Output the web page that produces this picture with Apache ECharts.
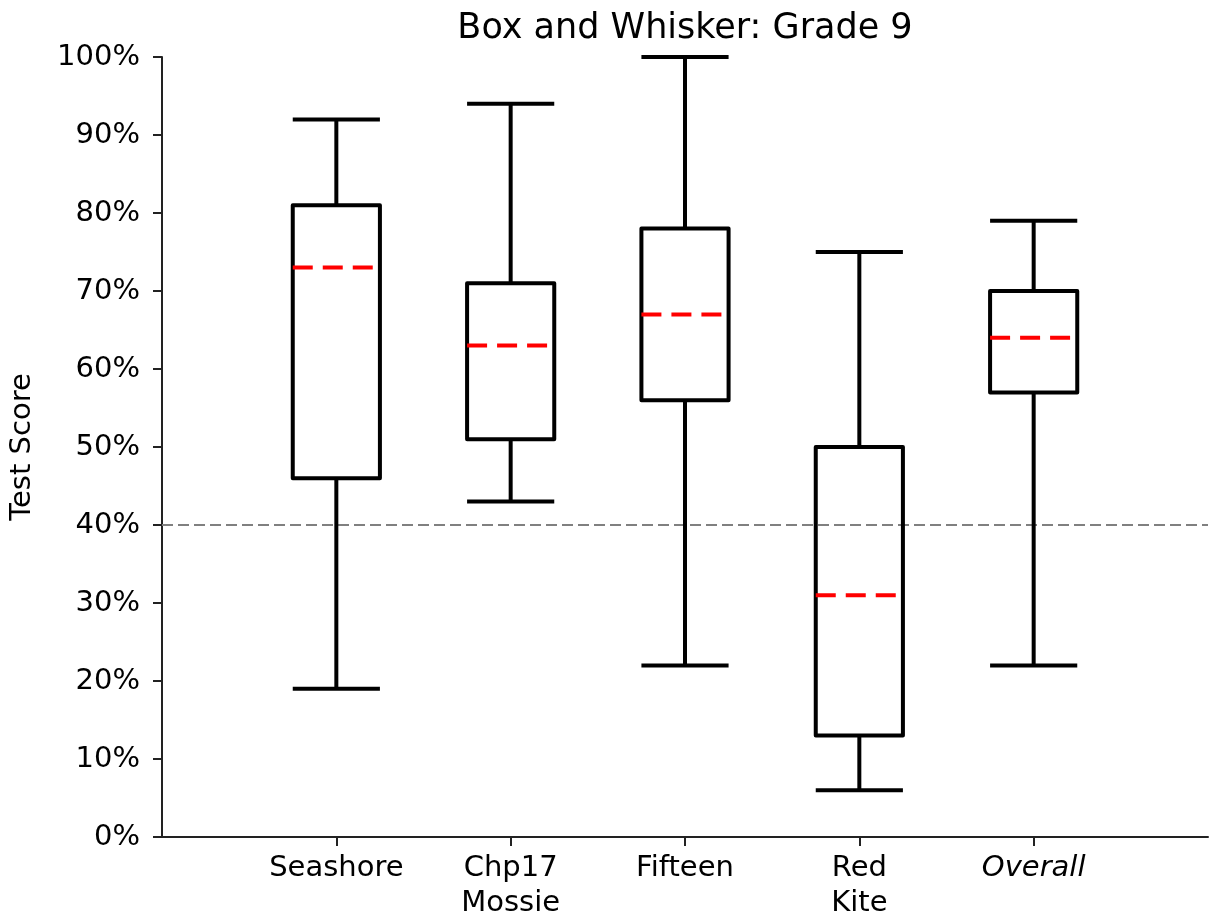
<!DOCTYPE html>
<html>
<head>
<meta charset="utf-8">
<script src="https://cdn.jsdelivr.net/npm/echarts@6/dist/echarts.min.js"></script>
<style>
html,body{margin:0;padding:0;background:#fff;}
#chart{width:1211px;height:921px;}
</style>
</head>
<body>
<div id="chart"></div>
<script>
// Data (percent)
var categories = ['Seashore', 'Chp17\nMossie', 'Fifteen', 'Red\nKite', 'Overall'];
var whiskerLow  = [19, 43, 22, 6, 22];
var quartile1   = [46, 51, 56, 13, 57];
var medians     = [73, 63, 67, 31, 64];
var quartile3   = [81, 71, 78, 50, 70];
var whiskerHigh = [92, 94, 100, 75, 79];
var yTicks = [0, 10, 20, 30, 40, 50, 60, 70, 80, 90, 100];
var passMark = 40;

var axisCats = [''].concat(categories).concat(['']);
var boxData = categories.map(function (c, i) {
  return [i + 1, whiskerLow[i], quartile1[i], medians[i], quartile3[i], whiskerHigh[i]];
});

var FONT = 'DejaVu Sans';
var chart = echarts.init(document.getElementById('chart'), null, {renderer: 'canvas'});

function renderBox(params, api) {
  var x = api.value(0);
  var w = api.size([1, 0])[0] * 0.5;
  var pLo = api.coord([x, api.value(1)]);
  var pQ1 = api.coord([x, api.value(2)]);
  var pMd = api.coord([x, api.value(3)]);
  var pQ3 = api.coord([x, api.value(4)]);
  var pHi = api.coord([x, api.value(5)]);
  var cx = pLo[0];
  var ls = {stroke: '#000', lineWidth: 4, lineCap: 'butt', lineJoin: 'round'};
  return {
    type: 'group',
    children: [
      {type: 'line', shape: {x1: cx, y1: pQ1[1], x2: cx, y2: pLo[1]}, style: ls},
      {type: 'line', shape: {x1: cx, y1: pQ3[1], x2: cx, y2: pHi[1]}, style: ls},
      {type: 'line', shape: {x1: cx - w / 2, y1: pLo[1], x2: cx + w / 2, y2: pLo[1]}, style: ls},
      {type: 'line', shape: {x1: cx - w / 2, y1: pHi[1], x2: cx + w / 2, y2: pHi[1]}, style: ls},
      {type: 'rect', shape: {x: cx - w / 2, y: pQ3[1], width: w, height: pQ1[1] - pQ3[1]},
        style: {fill: 'none', stroke: '#000', lineWidth: 4, lineJoin: 'round'}},
      {type: 'line', shape: {x1: cx - w / 2, y1: pMd[1], x2: cx + w / 2 - 2, y2: pMd[1]},
        style: {stroke: '#ff0000', lineWidth: 4, lineDash: [20, 10], lineCap: 'butt'}}
    ]
  };
}

var option = {
  animation: false,
  backgroundColor: '#fff',
  title: {
    text: 'Box and Whisker: Grade 9',
    left: 680,
    top: 6,
    textAlign: 'center',
    textStyle: {fontFamily: FONT, fontSize: 35, fontWeight: 'normal', color: '#000'}
  },
  grid: {left: 162, right: 1, top: 57, bottom: 83, containLabel: false},
  xAxis: {
    type: 'category',
    data: axisCats,
    boundaryGap: false,
    axisLine: {show: true, lineStyle: {color: '#222', width: 2}},
    axisTick: {
      show: true, length: 9, inside: false,
      interval: function (i, v) { return v !== ''; },
      lineStyle: {color: '#222', width: 2}
    },
    axisLabel: {
      interval: 0,
      margin: 14,
      fontFamily: FONT,
      fontSize: 29,
      lineHeight: 35,
      color: '#000',
      formatter: function (v) {
        if (v === 'Overall') return '{it|Overall}';
        return v;
      },
      rich: {it: {fontStyle: 'italic', fontFamily: FONT, fontSize: 29, color: '#000'}}
    },
    splitLine: {show: false}
  },
  yAxis: {
    type: 'value',
    min: 0,
    max: 100,
    interval: 10,
    name: 'Test Score',
    nameLocation: 'middle',
    nameGap: 125,
    nameRotate: 90,
    nameTextStyle: {fontFamily: FONT, fontSize: 29, color: '#000'},
    axisLine: {show: true, lineStyle: {color: '#222', width: 2}},
    axisTick: {show: true, length: 9, lineStyle: {color: '#222', width: 2}},
    axisLabel: {
      margin: 22,
      fontFamily: FONT,
      fontSize: 29,
      color: '#000',
      formatter: function (v) { return yTicks.indexOf(v) >= 0 ? v + '%' : ''; }
    },
    splitLine: {show: false}
  },
  series: [
    {
      type: 'line',
      data: [],
      markLine: {
        silent: true,
        symbol: ['none', 'none'],
        label: {show: false},
        lineStyle: {color: '#808080', width: 2, type: [11, 5]},
        data: [{yAxis: passMark}]
      }
    },
    {
      type: 'custom',
      renderItem: renderBox,
      encode: {x: 0, y: [1, 2, 3, 4, 5]},
      data: boxData,
      z: 5
    }
  ]
};
chart.setOption(option);
</script>
</body>
</html>
